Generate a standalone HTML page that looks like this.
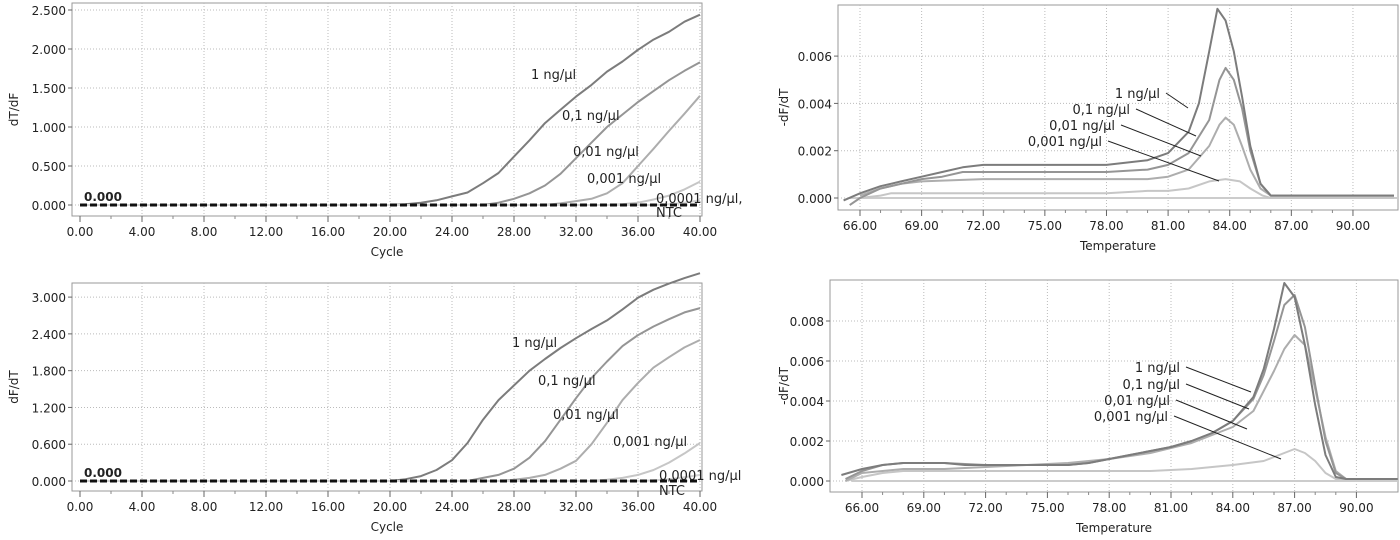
<!DOCTYPE html>
<html><head><meta charset="utf-8"><style>
html,body{margin:0;padding:0;background:#fff;width:1400px;height:540px;overflow:hidden}
svg{position:absolute;left:0;top:0}
text{font-family:"DejaVu Sans","Liberation Sans",sans-serif;fill:#222}
</style></head><body>
<svg id="c" width="1400" height="540"></svg>
<script>
// ---- amplification data ----
const cycles=[0,20,21,22,23,24,25,26,27,28,29,30,31,32,33,34,35,36,37,38,39,40];
const ampTopLabels=["1 ng/µl","0,1 ng/µl","0,01 ng/µl","0,001 ng/µl","0,0001 ng/µl,"];
const ampTop1=[0,0,0.01,0.03,0.06,0.11,0.16,0.28,0.41,0.62,0.83,1.05,1.22,1.39,1.54,1.71,1.84,1.99,2.12,2.22,2.35,2.44];
const ampTop2=[0,0,0,0,0,0,0,0,0.03,0.08,0.15,0.25,0.4,0.6,0.8,1.0,1.16,1.32,1.46,1.6,1.72,1.83];
const ampTop3=[0,0,0,0,0,0,0,0,0,0,0,0,0.02,0.05,0.08,0.15,0.28,0.5,0.72,0.95,1.17,1.4];
const ampTop4=[0,0,0,0,0,0,0,0,0,0,0,0,0,0,0,0,0.01,0.03,0.07,0.12,0.2,0.3];
const ampTop5=[0,0,0,0,0,0,0,0,0,0,0,0,0,0,0,0,0,0,0,0.01,0.03,0.06];
const ampBot1=[0,0,0.03,0.08,0.18,0.34,0.62,1.0,1.32,1.56,1.8,1.99,2.17,2.33,2.48,2.62,2.8,2.99,3.12,3.22,3.31,3.39];
const ampBot2=[0,0,0,0,0,0,0,0.05,0.1,0.2,0.38,0.65,1.0,1.35,1.68,1.95,2.2,2.38,2.52,2.64,2.75,2.82];
const ampBot3=[0,0,0,0,0,0,0,0,0,0.02,0.05,0.1,0.2,0.33,0.6,0.95,1.32,1.6,1.85,2.02,2.18,2.3];
const ampBot4=[0,0,0,0,0,0,0,0,0,0,0,0,0,0,0,0.02,0.05,0.1,0.18,0.3,0.45,0.62];
const ampBot5=[0,0,0,0,0,0,0,0,0,0,0,0,0,0,0,0,0,0,0.01,0.03,0.06,0.1];
const cycleTicks=[0,4,8,12,16,20,24,28,32,36,40];
const ampTopTicks=[0,0.5,1,1.5,2,2.5];
const ampBotTicks=[0,0.6,1.2,1.8,2.4,3.0];
// ---- melt data ----
const mtT1=[65.2,66,67,68,69,70,71,72,75,78,80,81,82,82.5,83,83.4,83.8,84.2,84.6,85,85.5,86,92];
const mtV1=[-0.0001,0.0002,0.0005,0.0007,0.0009,0.0011,0.0013,0.0014,0.0014,0.0014,0.0016,0.0019,0.0028,0.004,0.0062,0.008,0.0075,0.0062,0.0043,0.0022,0.0006,0.0001,0.0001];
const mtT2=[65.5,66,67,68,69,70,71,75,78,80,81,82,83,83.5,83.8,84.2,84.6,85,85.5,86,92];
const mtV2=[-0.0003,0,0.0004,0.0006,0.0008,0.0009,0.0011,0.0011,0.0011,0.0012,0.0014,0.0019,0.0033,0.005,0.0055,0.005,0.0038,0.002,0.0006,0.0001,0.0001];
const mtT3=[66,67,68,69,72,75,78,80,81,82,83,83.5,83.8,84.2,84.6,85,85.5,86,92];
const mtV3=[0.0001,0.0004,0.0006,0.0007,0.0008,0.0008,0.0008,0.0008,0.0009,0.0012,0.0022,0.0031,0.0034,0.0031,0.0022,0.0012,0.0004,0.0001,0.0001];
const mtT4=[66,67,67.5,72,78,80,81,82,83,83.8,84.5,85,85.6,86,92];
const mtV4=[0,0.0001,0.0002,0.0002,0.0002,0.0003,0.0003,0.0004,0.0007,0.0008,0.0007,0.0004,0.0001,0,0];
const mbT1=[65,66,67,68,69,70,71,72,75,76,77,78,79,80,81,82,83,84,85,85.5,86,86.5,87,87.5,88,88.5,89,89.5,92];
const mbV1=[0.0003,0.0006,0.0008,0.0009,0.0009,0.0009,0.0008,0.0008,0.0008,0.0008,0.0009,0.0011,0.0013,0.0015,0.0017,0.002,0.0024,0.003,0.0042,0.0056,0.0076,0.0099,0.0092,0.0068,0.0038,0.0013,0.0002,0.0001,0.0001];
const mbT2=[65.2,66,67,68,70,72,75,76,77,78,79,80,81,82,83,84,85,85.5,86,86.5,87,87.5,88,88.5,89,89.5,92];
const mbV2=[0.0001,0.0005,0.0008,0.0009,0.0009,0.0008,0.0008,0.0008,0.0009,0.0011,0.0013,0.0015,0.0017,0.002,0.0024,0.003,0.0041,0.0053,0.007,0.0088,0.0093,0.0077,0.0048,0.002,0.0004,0.0001,0.0001];
const mbT3=[65.2,66,67,68,70,72,74,76,78,80,82,84,85,86,86.5,87,87.5,88,88.5,89,89.5,92];
const mbV3=[0,0.0004,0.0005,0.0006,0.0006,0.0007,0.0008,0.0009,0.0011,0.0014,0.0019,0.0027,0.0035,0.0055,0.0066,0.0073,0.0068,0.0046,0.0022,0.0005,0.0001,0.0001];
const mbT4=[65.2,66,67,68,72,78,80,82,84,85.5,86.5,87,87.5,88,88.5,89,92];
const mbV4=[0,0.0002,0.0004,0.0005,0.0005,0.0005,0.0005,0.0006,0.0008,0.001,0.0014,0.0016,0.0014,0.001,0.0004,0.0001,0.0001];
const meltLabels=["1 ng/µl","0,1 ng/µl","0,01 ng/µl","0,001 ng/µl"];
const tempTicks=[66,69,72,75,78,81,84,87,90];
const mtTicks=[0,0.002,0.004,0.006];
const mbTicks=[0,0.002,0.004,0.006,0.008];

const NS="http://www.w3.org/2000/svg";
const svg=document.getElementById('c');
const cols=["#7c7c7c","#959595","#adadad","#c6c6c6","#d4d4d4"];
function mk(tag,at,parent){const e=document.createElementNS(NS,tag);for(const k in at)e.setAttribute(k,at[k]);(parent||svg).appendChild(e);return e;}
function txt(s,x,y,at,parent){const e=mk('text',Object.assign({x:x,y:y,'font-size':12},at),parent);e.textContent=s;return e;}

function panel(o){
  const g=mk('g',{});
  
  
  const X=v=>o.x0+(v-o.xmin)*o.xs, Y=v=>o.y0-(v)*o.ys;
  const fr=mk('rect',{x:o.L,y:o.T,width:o.R-o.L,height:o.B-o.T,fill:'#fff',stroke:'#999','stroke-width':1},g);
  
  o.xt.forEach(t=>{const x=X(t);
    if(t!==o.xt[0]||o.gridFirst)mk('line',{x1:x,x2:x,y1:o.T,y2:o.B,stroke:'#bbb','stroke-dasharray':'1,2'},g);
    mk('line',{x1:x,x2:x,y1:o.B,y2:o.B+6,stroke:'#666'},g);
    const l=txt(o.xf(t),x,o.B+20,{'text-anchor':'middle'},g);
    });
  for(let i=0;i<o.xt.length-1;i++){const step=(o.xt[1]-o.xt[0])/o.minor;
    for(let k=1;k<o.minor;k++){const x=X(o.xt[i]+k*step);mk('line',{x1:x,x2:x,y1:o.B,y2:o.B+3,stroke:'#888'},g);}}
  o.yt.forEach(t=>{const y=Y(t);
    mk('line',{x1:o.L,x2:o.R,y1:y,y2:y,stroke:'#bbb','stroke-dasharray':'1,2'},g);
    mk('line',{x1:o.L-4,x2:o.L,y1:y,y2:y,stroke:'#666'},g);
    const l=txt(o.yf(t),o.L-6,y+5,{'text-anchor':'end'},g);
    });
  const xt=txt(o.xtitle,(o.L+o.R)/2,o.B+40,{'text-anchor':'middle'},g);
  
  const yt=txt(o.ytitle,0,0,{'text-anchor':'middle',transform:`translate(${o.ytx},${(o.T+o.B)/2}) rotate(-90)`},g);
  
  return {g,X,Y};
}
function series(p,xs,ys,col,name,w){
  const d=xs.map((x,i)=>(i?'L':'M')+p.X(x).toFixed(1)+','+p.Y(ys[i]).toFixed(1)).join('');
  const e=mk('path',{d:d,fill:'none',stroke:col,'stroke-width':w||2,'stroke-linejoin':'round'},p.g);
  return e;
}

function amp(name,T,B,y0,ys,yt,yfmt,ytitle,data,labPos){
  const p=panel({name:name,L:72,R:702,T:T,B:B,x0:80,xmin:0,xs:15.5,y0:y0,ys:ys,xt:cycleTicks,yt:yt,minor:2,
    xf:v=>v.toFixed(2),yf:yfmt,xtitle:'Cycle',ytitle:ytitle,ytx:18});
  data.forEach((s,i)=>series(p,cycles,s,cols[i],'series-'+ampTopLabels[i].replace(/[^0-9a-z]/gi,'')));
  const n=mk('line',{x1:p.X(0),x2:p.X(40),y1:p.Y(0),y2:p.Y(0),stroke:'#111','stroke-width':3,'stroke-dasharray':'7,3'},p.g);
  
  const z=txt('0.000',84,y0-4,{'font-weight':'bold','font-family':'Liberation Serif,serif'},p.g);
  
  labPos.forEach((lp,i)=>{const l=txt(lp[2],lp[0],lp[1],{'font-size':13},p.g);
    });
}
amp('amplification-top',3,216,205,78,ampTopTicks,v=>v.toFixed(3),'dT/dF',[ampTop1,ampTop2,ampTop3,ampTop4,ampTop5],
  [[531,79,'1 ng/µl'],[562,120,'0,1 ng/µl'],[573,156,'0,01 ng/µl'],[587,183,'0,001 ng/µl'],[656,203,'0,0001 ng/µl,'],[656,217,'NTC']]);
amp('amplification-bottom',283,491,481,61.3,ampBotTicks,v=>v.toFixed(3),'dF/dT',[ampBot1,ampBot2,ampBot3,ampBot4,ampBot5],
  [[512,347,'1 ng/µl'],[538,385,'0,1 ng/µl'],[553,419,'0,01 ng/µl'],[613,446,'0,001 ng/µl'],[659,480,'0,0001 ng/µl'],[659,495,'NTC']]);

function melt(name,L,T,B,x0,xs,y0,ys,yt,data,labs){
  const p=panel({name:name,L:L,R:1398,T:T,B:B,x0:x0,xmin:66,xs:xs,y0:y0,ys:ys,xt:tempTicks,yt:yt,minor:3,gridFirst:true,
    xf:v=>v.toFixed(2),yf:v=>v.toFixed(3),xtitle:'Temperature',ytitle:'-dF/dT',ytx:788});
  mk('line',{x1:p.X(65.5),x2:1398,y1:p.Y(0),y2:p.Y(0),stroke:'#ccc','stroke-width':2},p.g);
  for(let i=data.length-1;i>=0;i--)series(p,data[i][0],data[i][1],cols[i],'melt-'+meltLabels[i].replace(/[^0-9a-z]/gi,''));
  labs.forEach((lb,i)=>{const l=txt(meltLabels[i],lb[0],lb[1],{'text-anchor':'end','font-size':13},p.g);
    
    const ln=mk('line',{x1:lb[0]+6,y1:lb[1]-5,x2:lb[2],y2:lb[3],stroke:'#222','stroke-width':1},p.g);
    });
}
melt('melt-top',838,5,210,860,20.54,198,23650,mtTicks,[[mtT1,mtV1],[mtT2,mtV2],[mtT3,mtV3],[mtT4,mtV4]],
  [[1160,98,1188,108],[1130,114,1196,136],[1115,130,1201,156],[1102,146,1219,181]]);
melt('melt-bottom',830,280,492,862,20.6,481,20000,mbTicks,[[mbT1,mbV1],[mbT2,mbV2],[mbT3,mbV3],[mbT4,mbV4]],
  [[1180,372,1251,392],[1180,389,1249,409],[1170,405,1247,429],[1168,421,1281,459]]);
</script>
</body></html>
